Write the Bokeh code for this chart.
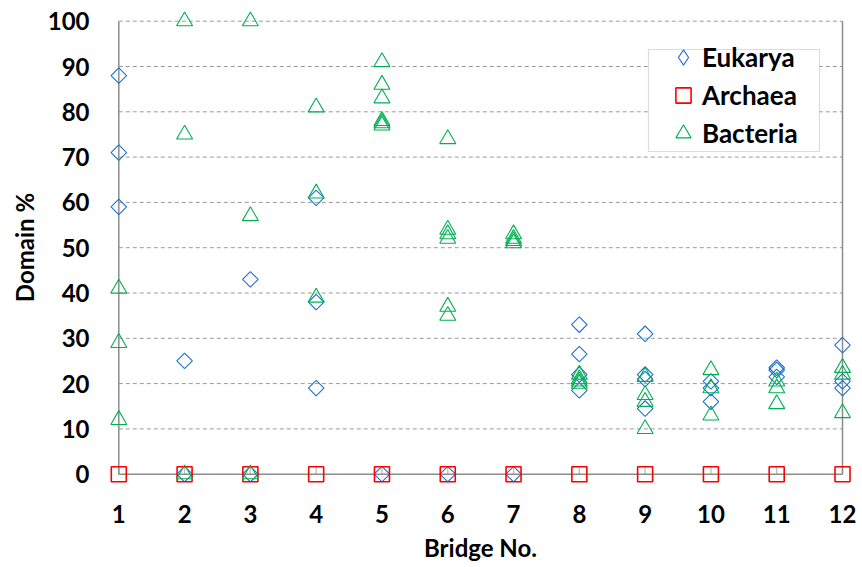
from bokeh.plotting import figure
from bokeh.models import Range1d, FixedTicker, BoxAnnotation, Legend, LegendItem
from bokeh.embed import file_html
from bokeh.resources import INLINE
import numpy as np

# ---------------- data ----------------
bridges = list(range(1, 13))
y_ticks = list(range(0, 101, 10))

euk_bridge = [1, 1, 1, 2, 2, 3, 3, 4, 4, 4, 5, 6, 7,
              8, 8, 8, 8, 9, 9, 9, 9, 10, 10, 10, 11, 11, 11, 12, 12, 12]
euk_pct = [88, 71, 59, 25, 0, 43, 0, 61, 38, 19, 0, 0, 0,
           33, 26.5, 22, 18.5, 31, 22, 21, 14.5, 20.5, 19, 16,
           23.5, 23, 21.5, 28.5, 20.5, 19]

arc_bridge = list(range(1, 13))
arc_pct = [0, 0, 0, 0, 0, 0, 0, 0, 0, 0, 0, 0]

bac_bridge = [1, 1, 1, 2, 2, 2, 3, 3, 3, 4, 4, 4,
              5, 5, 5, 5, 5, 5, 6, 6, 6, 6, 6, 6, 7, 7, 7, 7,
              8, 8, 8, 8, 9, 9, 9, 9, 10, 10, 10, 11, 11, 11, 12, 12, 12]
bac_pct = [41, 29, 12, 100, 75, 0, 100, 57, 0, 81, 62, 39,
           91, 86, 83, 78, 77.5, 77, 74, 54, 53, 52, 37, 35, 53, 52, 51.5, 51,
           22, 21, 20.5, 20, 21.5, 17.5, 16, 10, 23, 19, 13, 20.5, 19, 15.5,
           23.5, 22, 13.5]

series_names = ["Eukarya", "Archaea", "Bacteria"]

# ---------------- layout (pixels) ----------------
W, H = 862, 567
FL, FR, FT, FB = 108, 852, 10, 484          # frame edges in figure px
X1_PX, X12_PX = 118.3, 842.0                # where x=1 and x=12 fall
Y100_PX, Y0_PX = 20.7, 473.7                # where y=100 and y=0 fall

ux = (X12_PX - X1_PX) / (bridges[-1] - bridges[0])
uy = (Y0_PX - Y100_PX) / (y_ticks[-1] - y_ticks[0])
x_range = Range1d(bridges[0] - (X1_PX - FL) / ux, bridges[-1] + (FR - X12_PX) / ux)
y_range = Range1d(y_ticks[0] - (FB - Y0_PX) / uy, y_ticks[-1] + (Y100_PX - FT) / uy)

FONT = "Lato"
GRID = "#9a9a9a"
AXIS = "#8c8c8c"
BLUE = "#1f6fd1"
RED = "#ff0000"
GREEN = "#00b050"

p = figure(width=W, height=H, x_range=x_range, y_range=y_range,
           output_backend="svg", toolbar_location=None, title=None,
           min_border_left=FL, min_border_right=W - FR,
           min_border_top=FT, min_border_bottom=H - FB)
p.outline_line_color = None
p.background_fill_color = "white"
p.border_fill_color = "white"
p.xgrid.visible = False
p.ygrid.visible = False

for ax in (p.xaxis[0], p.yaxis[0]):
    ax.axis_line_color = None
    ax.major_tick_line_color = None
    ax.minor_tick_line_color = None
    ax.major_tick_out = 0
    ax.major_tick_in = 0
    ax.major_label_text_font = FONT
    ax.major_label_text_font_style = "bold"
    ax.major_label_text_font_size = "24px"
    ax.major_label_text_color = "black"
    ax.axis_label_text_font = FONT
    ax.axis_label_text_font_style = "bold"
    ax.axis_label_text_font_size = "24px"
    ax.axis_label_text_color = "black"

p.xaxis.ticker = FixedTicker(ticks=bridges)
p.yaxis.ticker = FixedTicker(ticks=y_ticks)
p.xaxis.axis_label = "Bridge No."
p.yaxis.axis_label = "Domain %"
p.xaxis.major_label_standoff = 20
p.xaxis.axis_label_standoff = 7
p.yaxis.major_label_standoff = 19
p.yaxis.axis_label_standoff = 6

xmin, xmax = bridges[0], bridges[-1]
ymin, ymax = y_ticks[0], y_ticks[-1]

# dashed horizontal gridlines
gy = y_ticks[1:]
p.segment(x0=[xmin] * len(gy), x1=[xmax] * len(gy), y0=gy, y1=gy,
          line_color=GRID, line_width=1, line_dash="4 3")
# small inside ticks on the x axis
tick_len = 7 / uy
p.segment(x0=bridges, x1=bridges, y0=[ymin] * len(bridges),
          y1=[ymin + tick_len] * len(bridges), line_color="#c4c4c4", line_width=1.5)
# axis lines + right border
p.segment(x0=[xmin, xmin, xmax], x1=[xmin, xmax, xmax],
          y0=[ymin, ymin, ymin], y1=[ymax, ymin, ymax],
          line_color=AXIS, line_width=1.5)

# ---------------- data markers ----------------
r_euk = p.scatter(euk_bridge, euk_pct, marker="square", angle=np.pi / 4, size=11,
                  fill_color=None, line_color=BLUE, line_width=1.1)
r_arc = p.scatter(arc_bridge, arc_pct, marker="square", size=15,
                  fill_color=None, line_color=RED, line_width=1.6)
r_bac = p.scatter(bac_bridge, bac_pct, marker="triangle", size=16,
                  fill_color=None, line_color=GREEN, line_width=1.1)
# legend-only diamond glyph (no drawable point in the plot)
r_euk_leg = p.scatter([float("nan")], [float("nan")], marker="diamond", size=15,
                      fill_color=None, line_color=BLUE, line_width=1.1)

# legend frame
p.add_layout(BoxAnnotation(left=540, right=711, bottom=333, top=435,
                           left_units="screen", right_units="screen",
                           top_units="screen", bottom_units="screen",
                           fill_color="white", fill_alpha=1.0,
                           line_color="#8c8c8c", line_width=1.2))

legend = Legend(items=[LegendItem(label=series_names[0], renderers=[r_euk_leg]),
                       LegendItem(label=series_names[1], renderers=[r_arc]),
                       LegendItem(label=series_names[2], renderers=[r_bac])],
                location=(556, 332), orientation="vertical",
                border_line_color=None, background_fill_alpha=0,
                padding=0, margin=0, spacing=-5,
                glyph_width=38, glyph_height=38, label_standoff=-2,
                label_text_font=FONT, label_text_font_style="bold",
                label_text_font_size="26px", label_text_color="black")
p.add_layout(legend, "center")

open("out.html", "w").write(file_html(p, INLINE))
